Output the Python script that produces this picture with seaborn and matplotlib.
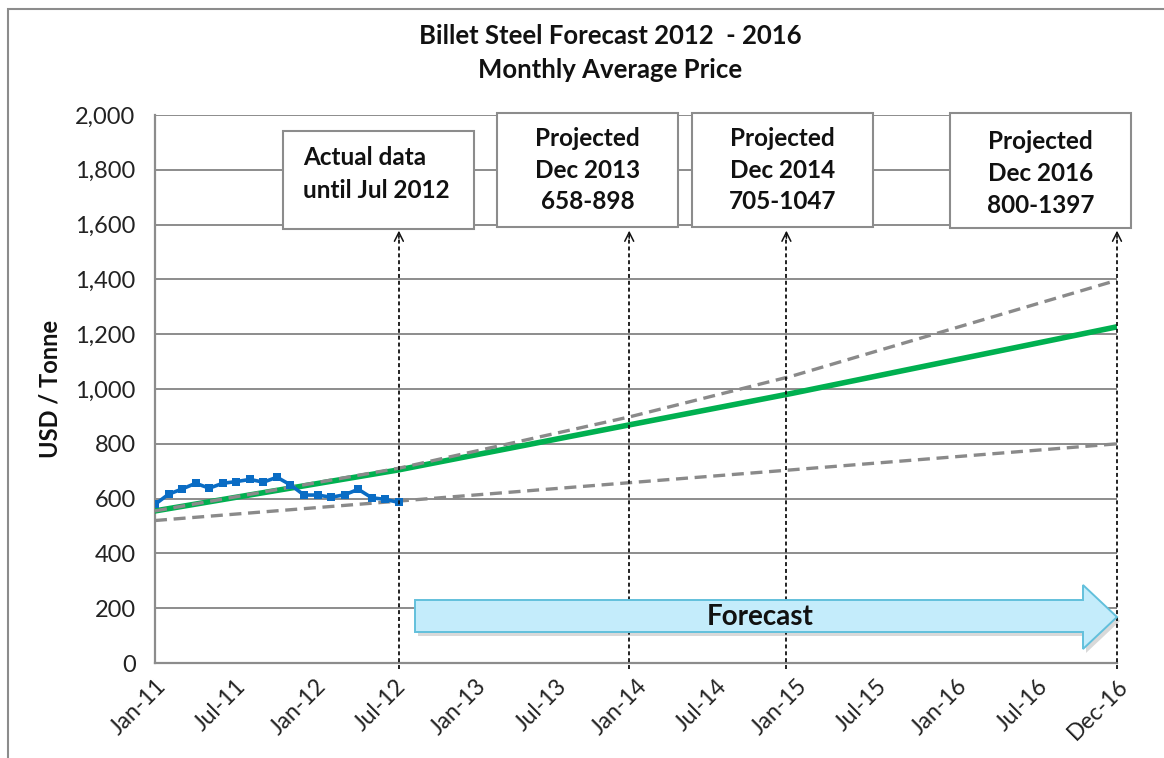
import numpy as np
import pandas as pd
import matplotlib
matplotlib.use("Agg")
import matplotlib.pyplot as plt
import matplotlib.patches as mpatches
from matplotlib.ticker import FixedLocator, FuncFormatter
import seaborn as sns

# ---------------- data ----------------
actual_months = list(range(19))  # Jan-11 .. Jul-12
actual_price = [579, 616, 635, 656, 638, 656, 662, 670, 660, 678,
                650, 613, 613, 605, 614, 634, 603, 597, 586]

knot_months = [0, 18, 35, 47, 71]          # Jan-11, Jul-12, Dec-13, Dec-14, Dec-16
trend_mid = [555, 705, 869, 984, 1227]
trend_high = [555, 711, 898, 1047, 1397]
trend_low = [520, 591, 658, 705, 800]

tick_labels = ["Jan-11", "Jul-11", "Jan-12", "Jul-12", "Jan-13", "Jul-13", "Jan-14",
               "Jul-14", "Jan-15", "Jul-15", "Jan-16", "Jul-16", "Dec-16"]
y_ticks = [0, 200, 400, 600, 800, 1000, 1200, 1400, 1600, 1800, 2000]

marker_months = [18, 35, 46.6, 71]
box_texts = ["Actual data\nuntil Jul 2012",
             "Projected\nDec 2013\n658-898",
             "Projected\nDec 2014\n705-1047",
             "Projected\nDec 2016\n800-1397"]

title = "Billet Steel Forecast 2012  - 2016\nMonthly Average Price"
ylabel = "USD / Tonne"
arrow_text = "Forecast"

# ---------------- style ----------------
sns.set_style("white")
plt.rcParams["font.family"] = ["Lato", "DejaVu Sans"]

W, H = 1164, 758
fig = plt.figure(figsize=(W / 100, H / 100), dpi=100)


def fx(x):
    return x / W


def fy(y):
    return 1 - y / H


ax_l, ax_r, ax_t, ax_b = 155, 1117, 115, 663
ax = fig.add_axes([fx(ax_l), fy(ax_b), (ax_r - ax_l) / W, (ax_b - ax_t) / H])

grid_c = "#8c8c8c"

df_act = pd.DataFrame({"month": actual_months, "price": actual_price})
df_fc = pd.DataFrame({"month": knot_months, "mid": trend_mid,
                      "high": trend_high, "low": trend_low})

sns.lineplot(data=df_fc, x="month", y="mid", ax=ax, color="#00b050", lw=4.0, zorder=3)
sns.lineplot(data=df_fc, x="month", y="high", ax=ax, color="#8a8a8a", lw=2.4, zorder=4)
ax.lines[-1].set_dashes([3.6, 2.0])
sns.lineplot(data=df_fc, x="month", y="low", ax=ax, color="#8a8a8a", lw=2.4, zorder=4)
ax.lines[-1].set_dashes([3.6, 2.0])
sns.lineplot(data=df_act, x="month", y="price", ax=ax, color="#0a6cc4", lw=2.6,
             marker="s", markersize=6.3, markeredgewidth=0, zorder=6)

ax.set_xlim(0, 71)
ax.set_ylim(0, 2000)
ax.set_xlabel("")
ax.set_ylabel("")

ax.xaxis.set_major_locator(FixedLocator(np.linspace(0, 71, len(tick_labels))))
ax.xaxis.set_minor_locator(FixedLocator(np.linspace(0, 71, 73)))
ax.set_xticklabels(tick_labels, rotation=45, ha="right", rotation_mode="anchor")
ax.yaxis.set_major_locator(FixedLocator(y_ticks))
ax.yaxis.set_major_formatter(FuncFormatter(lambda v, p: f"{int(v):,}"))

ax.grid(axis="y", color=grid_c, lw=1.4)
ax.grid(axis="x", visible=False)
for s in ["top", "right"]:
    ax.spines[s].set_visible(False)
for s in ["left", "bottom"]:
    ax.spines[s].set_color(grid_c)
    ax.spines[s].set_linewidth(1.6)

ax.tick_params(axis="x", which="major", direction="inout", length=14, width=1.4,
               color=grid_c, labelsize=16.5, labelcolor="#222222", pad=2)
ax.tick_params(axis="x", which="minor", direction="out", length=5, width=1.2, color=grid_c)
ax.tick_params(axis="y", which="major", direction="out", length=8, width=1.4,
               color=grid_c, labelsize=17, labelcolor="#222222", pad=6)
ax.set_axisbelow(True)

# title & y label
fig.text(fx(610), fy(53), title, ha="center", va="center", fontsize=18.5,
         fontweight="bold", color="#111111", linespacing=1.5)
fig.text(fx(50), fy(389), ylabel, ha="center", va="center", rotation=90,
         fontsize=17, fontweight="bold", color="#111111")

# outer chart border (left and top visible)
fig.add_artist(mpatches.Rectangle((fx(8), fy(H + 20)), fx(W + 40), fy(9) - fy(H + 20),
                                  transform=fig.transFigure, fill=False,
                                  edgecolor="#8c8c8c", lw=1.5, clip_on=False))

# vertical dashed marker arrows
for m in marker_months:
    ax.plot([m, m], [-22, 1560], color="#111111", lw=1.3, ls=(0, (2.2, 1.6)),
            clip_on=False, zorder=7)
    ax.annotate("", xy=(m, 1588), xytext=(m, 1540),
                arrowprops=dict(arrowstyle="->", color="#111111", lw=1.1,
                                mutation_scale=16),
                annotation_clip=False, zorder=7)

# text boxes
boxes = [(283, 131, 474, 229, "left", 303),
         (497, 113, 678, 227, "center", None),
         (692, 113, 873, 227, "center", None),
         (950, 113, 1131, 228, "center", None)]
for (x0, y0, x1, y1, ha, tx), txt in zip(boxes, box_texts):
    fig.add_artist(mpatches.Rectangle((fx(x0), fy(y1)), fx(x1) - fx(x0), fy(y0) - fy(y1),
                                      transform=fig.transFigure, facecolor="white",
                                      edgecolor="#8c8c8c", lw=1.5, zorder=10))
    if ha == "left":
        fig.text(fx(tx), fy((y0 + y1) / 2 - 6), txt, ha="left", va="center",
                 fontsize=17.5, fontweight="bold", color="#111111", linespacing=1.5,
                 zorder=11)
    else:
        fig.text(fx((x0 + x1) / 2), fy((y0 + y1) / 2 + (3 if x0 > 900 else 0)), txt,
                 ha="center", va="center", fontsize=17.5, fontweight="bold",
                 color="#111111", linespacing=1.45, zorder=11)

# forecast arrow
pts = [(415, 600), (1083, 600), (1083, 585), (1117, 617), (1083, 649), (1083, 632), (415, 632)]
shadow = [(fx(x + 3), fy(y + 4)) for x, y in pts]
fig.add_artist(mpatches.Polygon(shadow, closed=True, transform=fig.transFigure,
                                facecolor="#000000", alpha=0.15, lw=0, zorder=8))
fig.add_artist(mpatches.Polygon([(fx(x), fy(y)) for x, y in pts], closed=True,
                                transform=fig.transFigure, facecolor="#c4ecfb",
                                edgecolor="#62c0dc", lw=1.4, zorder=9))
fig.text(fx(760), fy(617), arrow_text, ha="center", va="center", fontsize=20,
         fontweight="bold", color="#111111", zorder=10)

fig.savefig("out.png", dpi=100)
